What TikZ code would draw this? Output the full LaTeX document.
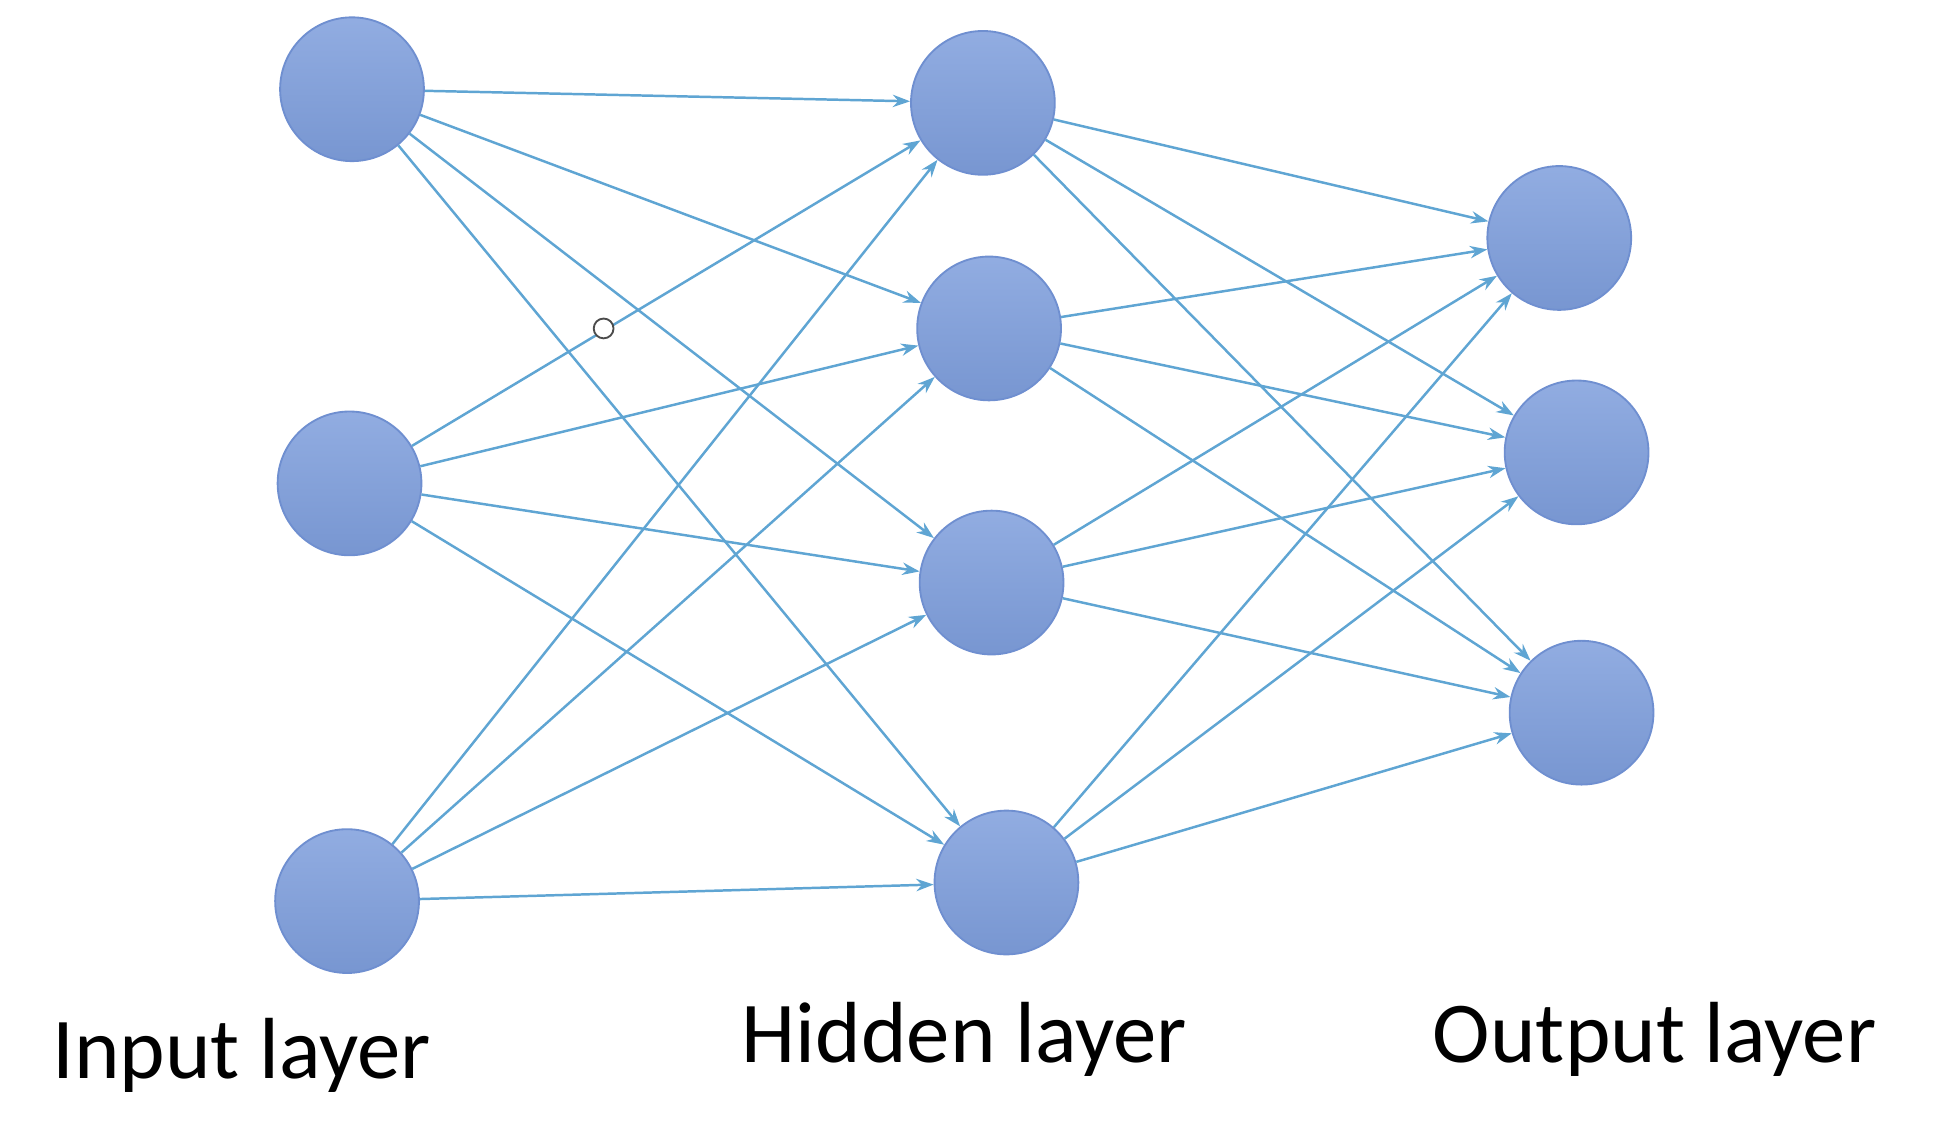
\documentclass[tikz,border=0pt]{standalone}
\usepackage{fontspec}
\setmainfont{Carlito}
\usetikzlibrary{arrows.meta}
\definecolor{nodefill}{HTML}{7E9EDC}
\definecolor{nodeline}{HTML}{6F8FD0}
\definecolor{edge}{HTML}{5FA5D3}
\begin{document}
\begin{tikzpicture}[x=1pt,y=-1pt,
  neuron/.style={circle,minimum size=116pt,inner sep=0pt,draw=nodeline,line width=1.5pt,top color=nodefill!85!white,bottom color=nodefill!95!black},
  conn/.style={draw=edge,line width=2pt,-{Stealth[length=14pt,width=10pt]}},
  lbl/.style={font=\fontsize{70}{80}\selectfont,anchor=base}]
\useasboundingbox (0,0) rectangle (1566,912);
\node[neuron] (i1) at (284,72) {};
\node[neuron] (i2) at (282,390) {};
\node[neuron] (i3) at (280,727) {};
\node[neuron] (h1) at (793,83) {};
\node[neuron] (h2) at (798,265) {};
\node[neuron] (h3) at (800,470) {};
\node[neuron] (h4) at (812,712) {};
\node[neuron] (o1) at (1258,192) {};
\node[neuron] (o2) at (1272,365) {};
\node[neuron] (o3) at (1276,575) {};
\foreach \a in {i1,i2,i3}{\foreach \b in {h1,h2,h3,h4}{\draw[conn] (\a) -- (\b);}}
\foreach \a in {h1,h2,h3,h4}{\foreach \b in {o1,o2,o3}{\draw[conn] (\a) -- (\b);}}
\node[circle,draw=black!70,line width=1.5pt,minimum size=16pt,inner sep=0pt,fill=white] (dot) at (487,265) {};
\node[lbl] (t1) at (195,870) {Input layer};
\node[lbl] (t2) at (778,857) {Hidden layer};
\node[lbl] (t3) at (1335,857) {Output layer};
\end{tikzpicture}
\end{document}
